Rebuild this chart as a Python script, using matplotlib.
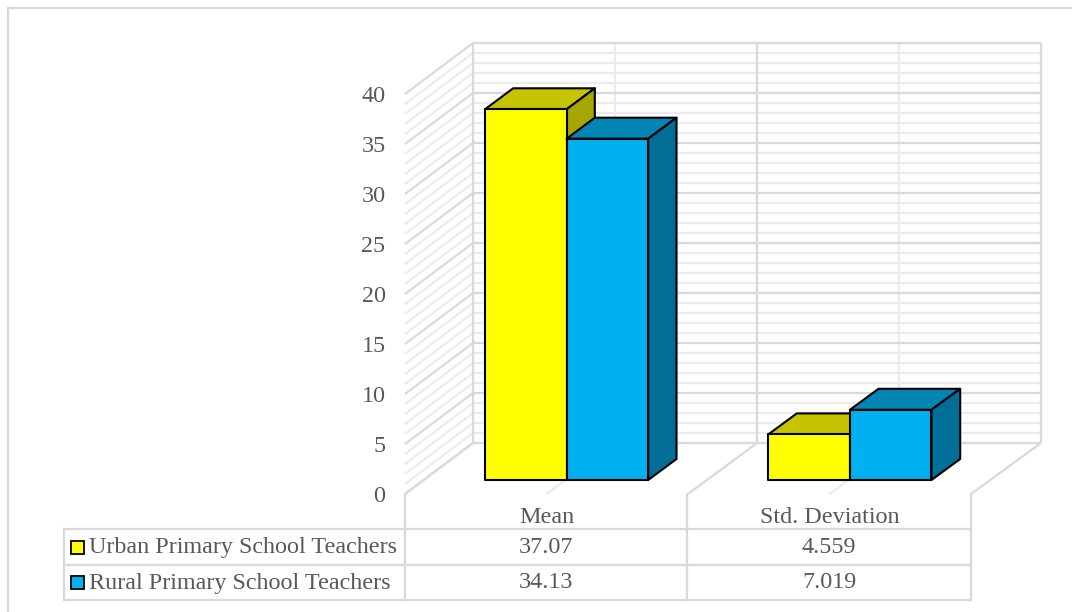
import matplotlib
matplotlib.use("Agg")
import matplotlib.pyplot as plt
from matplotlib.patches import Polygon, Rectangle
from matplotlib.lines import Line2D
from matplotlib.transforms import Affine2D

categories = ["Mean", "Std. Deviation"]
series_names = ["Urban Primary School Teachers", "Rural Primary School Teachers"]
urban_values = [37.07, 4.559]
rural_values = [34.13, 7.019]
value_ticks = [0, 5, 10, 15, 20, 25, 30, 35, 40]

W, H = 1072, 612
TEXT = "#595959"
MAJOR = "#D9D9D9"
MINOR = "#ECECEC"
FONT = "Liberation Serif"
FS = 17.4

fig = plt.figure(figsize=(W / 100, H / 100), dpi=100, facecolor="white")
px = Affine2D().scale(1 / W, -1 / H).translate(0, 1) + fig.transFigure

# front plane of the 3D plot: categories on x, values on y
ax = fig.add_axes([405 / W, 1 - 494 / H, 566 / W, 400 / H])
ax.set_xlim(0, 2)
ax.set_ylim(0, 40)
ax.patch.set_visible(False)
for s in ax.spines.values():
    s.set_visible(False)

DX = 68 / 283      # horizontal shift of full depth, in category units
DXW = 1 / 283      # slight perspective widening with x
DV = 5.1           # vertical shift of full depth, in value units


def P(x, v, d):
    return (x + d * (DX + x * DXW), v + d * DV)


def seg(a, b, color, lw=1.6, z=1):
    ax.plot(*zip(a, b), color=color, lw=lw, zorder=z, clip_on=False,
            solid_capstyle="butt")


# minor grid first, then major
for v in range(0, 41):
    if v % 5:
        seg(P(0, v, 0), P(0, v, 1), MINOR, z=1)
        seg(P(0, v, 1), P(2, v, 1), MINOR, z=1)
for x in (0.5, 1.5):
    seg(P(x, 0, 1), P(x, 40, 1), MINOR, z=1)
    seg(P(x, 0, 0), P(x, 0, 1), MINOR, z=1)
for v in value_ticks:
    seg(P(0, v, 0), P(0, v, 1), MAJOR, z=2)
    seg(P(0, v, 1), P(2, v, 1), MAJOR, z=2)
for x in (0, 1, 2):
    seg(P(x, 0, 1), P(x, 40, 1), MAJOR, z=2)
    seg(P(x, 0, 0), P(x, 0, 1), MAJOR, z=2)

# bars
D0, D1 = 14 / 51, 35 / 51
INSET = 0.2166
BW = 0.288
EDGE = dict(edgecolor="black", linewidth=1.5, joinstyle="round", clip_on=False, zorder=5)
styles = [("#FFFF00", "#C4C400", "#A6A600"), ("#00B0F0", "#0085B5", "#006E96")]
for c in range(len(categories)):
    for i, vals in enumerate([urban_values, rural_values]):
        l = c + INSET + i * BW
        r = l + BW
        v = vals[c]
        front, top, side = styles[i]
        ax.add_patch(Polygon([P(l, v, D0), P(r, v, D0), P(r, v, D1), P(l, v, D1)], facecolor=top, **EDGE))
        ax.add_patch(Polygon([P(r, 0, D0), P(r, 0, D1), P(r, v, D1), P(r, v, D0)], facecolor=side, **EDGE))
        ax.add_patch(Polygon([P(l, 0, D0), P(r, 0, D0), P(r, v, D0), P(l, v, D0)], facecolor=front, **EDGE))

ax.set_yticks(value_ticks)
ax.set_yticklabels([str(v) for v in value_ticks], family=FONT, fontsize=FS, color=TEXT)
ax.set_xticks([0.5, 1.5])
ax.set_xticklabels(categories, family=FONT, fontsize=FS, color=TEXT)
ax.tick_params(axis="y", length=0, pad=14)
ax.tick_params(axis="x", length=0, pad=9.5)

# data table and chart frame, placed in pixels
def fline(x0, y0, x1, y1, color=MAJOR, lw=1.6):
    fig.add_artist(Line2D([x0, x1], [y0, y1], transform=px, color=color, lw=lw,
                          solid_capstyle="projecting"))


fline(8, 8, 1072, 8)
fline(8, 8, 8, 612)
rows = [529, 565, 600]
cols = [64, 405, 687, 971]
for y in rows:
    fline(cols[0], y, cols[-1], y)
for x in cols:
    fline(x, rows[0], x, rows[-1])
for x in cols[1:]:
    fline(x, 494, x, rows[0])

for i, (name, vals) in enumerate(zip(series_names, [urban_values, rural_values])):
    yc = (rows[i] + rows[i + 1]) / 2
    fig.add_artist(Rectangle((71, yc - 6.5), 13, 13, transform=px,
                             facecolor=styles[i][0], edgecolor="black", lw=1.3))
    fig.text(89, yc + 0.5, name, transform=px, family=FONT, fontsize=FS, color=TEXT,
             ha="left", va="center")
    for j, val in enumerate(vals):
        fig.text((cols[j + 1] + cols[j + 2]) / 2, yc + 0.5, str(val), transform=px, family=FONT,
                 fontsize=FS, color=TEXT, ha="center", va="center")

fig.savefig("out.png", dpi=100)
